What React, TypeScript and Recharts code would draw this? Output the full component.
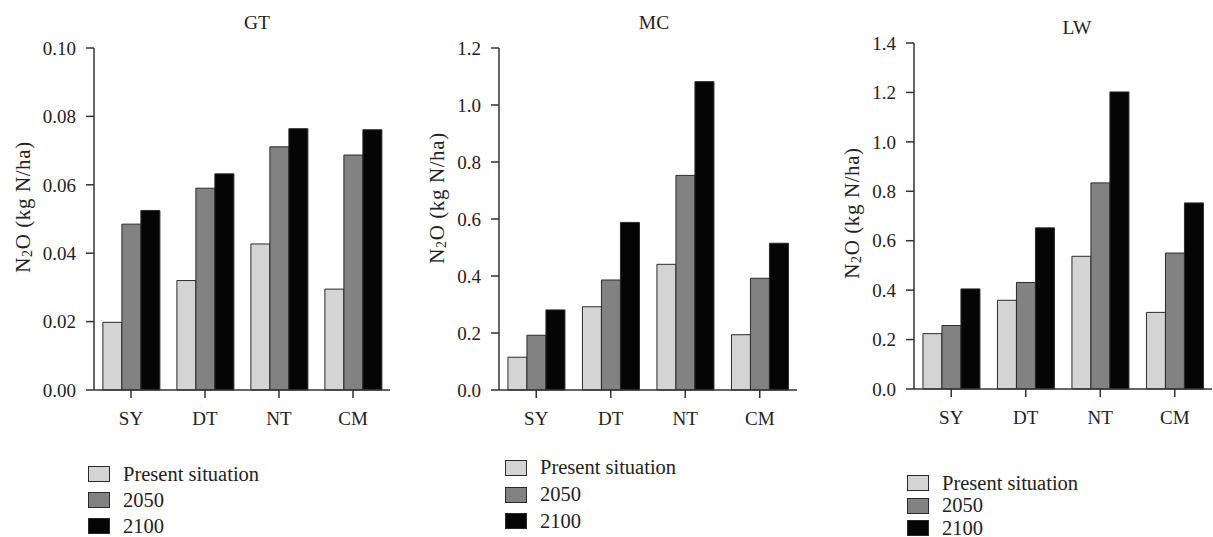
import { Bar, BarChart, XAxis, YAxis, Legend } from "recharts"

const sites = ["SY", "DT", "NT", "CM"]
const seriesNames = ["Present situation", "2050", "2100"]

// GT site
const gtPresent = [0.0198, 0.032, 0.0427, 0.0295]
const gt2050 = [0.0485, 0.059, 0.0711, 0.0687]
const gt2100 = [0.0525, 0.0632, 0.0764, 0.0761]
const gtTicks = [0, 0.02, 0.04, 0.06, 0.08, 0.1]

// MC site
const mcPresent = [0.115, 0.292, 0.441, 0.194]
const mc2050 = [0.192, 0.386, 0.753, 0.392]
const mc2100 = [0.281, 0.588, 1.082, 0.515]
const mcTicks = [0, 0.2, 0.4, 0.6, 0.8, 1.0, 1.2]

// LW site
const lwPresent = [0.224, 0.359, 0.537, 0.31]
const lw2050 = [0.257, 0.431, 0.834, 0.55]
const lw2100 = [0.405, 0.652, 1.202, 0.753]
const lwTicks = [0, 0.2, 0.4, 0.6, 0.8, 1.0, 1.2, 1.4]

const FONT = "Liberation Serif, DejaVu Serif, serif"
const AXIS = "#333"
const BAR_STROKE = "#2a2a2a"
const COLORS = ["#d4d4d4", "#828282", "#050505"]

const buildData = (a: number[], b: number[], c: number[]) =>
    sites.map((site, i) => ({ site, present: a[i], y2050: b[i], y2100: c[i] }))

function LegendBox({ payload, rows }: any) {
    // keep the series order, not the sorted one
    const items = [...(payload || [])].sort((a: any, b: any) => seriesNames.indexOf(a.value) - seriesNames.indexOf(b.value))
    return (
        <div style={{ fontFamily: FONT, fontSize: 20.5, color: "#222" }}>
            {items.map((p: any, i: number) => (
                <div key={i} style={{ display: "flex", alignItems: "center", height: rows[i], whiteSpace: "nowrap" }}>
                    <div style={{ width: 20, height: 14, background: p.color, border: `1px solid ${BAR_STROKE}`, marginRight: 13 }} />
                    <span>{p.value}</span>
                </div>
            ))}
        </div>
    )
}

function Panel(props: {
    left: number, width: number, title: string, titleX: number, titleTop: number,
    data: any[], ticks: number[], digits: number,
    margin: { top: number, right: number, bottom: number, left: number },
    labelX: number, labelY: number, legendLeft: number, legendTop: number, rows: number[]
}) {
    const { left, width, title, titleX, titleTop, data, ticks, digits, margin, labelX, labelY, legendLeft, legendTop, rows } = props
    const tickStyle = { fontSize: 19, fill: "#222", fontFamily: FONT }
    return (
        <div style={{ position: "absolute", left, top: 0, width, height: 537, fontFamily: FONT }}>
            <div style={{ position: "absolute", left: titleX - left - 40, width: 80, top: titleTop, textAlign: "center", fontSize: 19.5, color: "#222" }}>
                {title}
            </div>
            <BarChart width={width} height={537} data={data} margin={margin} barCategoryGap="12%" barGap={0} style={{ fontFamily: FONT }}>
                <XAxis dataKey="site" height={40} tickSize={8} tickMargin={14} stroke={AXIS} strokeWidth={1.5} tick={tickStyle} />
                <YAxis
                    width={60}
                    domain={[0, ticks[ticks.length - 1]]}
                    ticks={ticks}
                    interval={0}
                    tickFormatter={(v: number) => v.toFixed(digits)}
                    tickSize={8}
                    tickMargin={10}
                    stroke={AXIS}
                    strokeWidth={1.5}
                    tick={tickStyle}
                    label={() => (
                        <text x={labelX} y={labelY} transform={`rotate(-90 ${labelX} ${labelY})`} textAnchor="middle" dominantBaseline="central"
                            fill="#222" style={{ fontFamily: FONT, fontSize: 21, letterSpacing: 0.6 }}>
                            <tspan>N</tspan>
                            <tspan style={{ fontSize: 14 }} dy={4}>2</tspan>
                            <tspan dy={-4}>O (kg N/ha)</tspan>
                        </text>
                    )}
                />
                <Legend
                    layout="vertical"
                    align="center"
                    verticalAlign="middle"
                    wrapperStyle={{ left: legendLeft, top: legendTop, width: 250 }}
                    content={<LegendBox rows={rows} />}
                />
                <Bar dataKey="present" name={seriesNames[0]} fill={COLORS[0]} stroke={BAR_STROKE} strokeWidth={1} isAnimationActive={false} />
                <Bar dataKey="y2050" name={seriesNames[1]} fill={COLORS[1]} stroke={BAR_STROKE} strokeWidth={1} isAnimationActive={false} />
                <Bar dataKey="y2100" name={seriesNames[2]} fill={COLORS[2]} stroke={BAR_STROKE} strokeWidth={1} isAnimationActive={false} />
            </BarChart>
        </div>
    )
}

export default function App() {
    return (
        <div style={{ position: "absolute", left: 0, top: 0, width: 1213, height: 537, background: "#fff", overflow: "hidden" }}>
            <Panel
                left={0} width={400} title="GT" titleX={257} titleTop={12}
                data={buildData(gtPresent, gt2050, gt2100)} ticks={gtTicks} digits={2}
                margin={{ top: 48, right: 10, bottom: 107, left: 34 }}
                labelX={23} labelY={207} legendLeft={88} legendTop={462} rows={[24, 28, 24]}
            />
            <Panel
                left={400} width={400} title="MC" titleX={654} titleTop={12}
                data={buildData(mcPresent, mc2050, mc2100)} ticks={mcTicks} digits={1}
                margin={{ top: 48, right: 3, bottom: 107, left: 39 }}
                labelX={37} labelY={198} legendLeft={105} legendTop={455} rows={[25, 29, 24]}
            />
            <Panel
                left={800} width={413} title="LW" titleX={1077} titleTop={17}
                data={buildData(lwPresent, lw2050, lw2100)} ticks={lwTicks} digits={1}
                margin={{ top: 43, right: 1, bottom: 108, left: 54 }}
                labelX={52} labelY={213} legendLeft={107} legendTop={472} rows={[22, 23, 22]}
            />
        </div>
    )
}
